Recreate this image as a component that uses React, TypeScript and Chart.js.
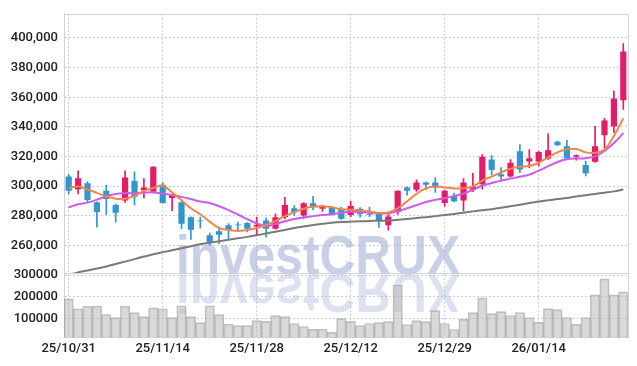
import React, { useEffect, useRef } from 'react';
import { Chart, registerables } from 'chart.js';

Chart.register(...registerables);

const dates = [
  '25/10/31', '25/11/03', '25/11/04', '25/11/05', '25/11/06', '25/11/07', '25/11/10', '25/11/11', '25/11/12', '25/11/13',
  '25/11/14', '25/11/17', '25/11/18', '25/11/19', '25/11/20', '25/11/21', '25/11/24', '25/11/25', '25/11/26', '25/11/27',
  '25/11/28', '25/12/01', '25/12/02', '25/12/03', '25/12/04', '25/12/05', '25/12/08', '25/12/09', '25/12/10', '25/12/11',
  '25/12/12', '25/12/15', '25/12/16', '25/12/17', '25/12/18', '25/12/19', '25/12/22', '25/12/23', '25/12/24', '25/12/26',
  '25/12/29', '25/12/30', '26/01/02', '26/01/05', '26/01/06', '26/01/07', '26/01/08', '26/01/09', '26/01/12', '26/01/13',
  '26/01/14', '26/01/15', '26/01/16', '26/01/19', '26/01/20', '26/01/21', '26/01/22', '26/01/23', '26/01/26', '26/01/27',
];

const opens = [
  306470, 298000, 302000, 289100, 296900, 287300, 290300, 303600, 297300, 296300,
  300900, 292000, 289100, 279100, 276800, 266900, 269600, 273600, 274200, 275100,
  272800, 276800, 271300, 279100, 285100, 280300, 288500, 284700, 285800, 284700,
  280600, 284700, 281300, 281800, 273600, 282500, 299100, 297600, 302500, 302500,
  288700, 293600, 290300, 297600, 301300, 318000, 308000, 306500, 323600, 316700,
  316700, 318700, 330000, 327000, 319800, 314300, 316500, 334300, 340300, 358000,
];
const highs = [
  308000, 310300, 303100, 289500, 300700, 288000, 310300, 309600, 305100, 313300,
  302500, 294500, 289500, 279300, 279100, 268400, 271800, 274700, 275800, 275500,
  279100, 278500, 281300, 292500, 286900, 289000, 293100, 287300, 286300, 285800,
  290000, 285500, 285800, 282000, 280900, 296900, 299500, 304300, 303000, 305800,
  297300, 295300, 305100, 308700, 321300, 320700, 312500, 318000, 328000, 324700,
  323500, 335300, 330500, 331000, 321200, 317000, 340300, 345800, 364300, 396200,
];
const lows = [
  294700, 294700, 289100, 272300, 280900, 275800, 289100, 287300, 292000, 295800,
  288500, 283400, 271400, 264000, 271700, 260200, 261300, 264700, 270300, 269100,
  266900, 265600, 271000, 278000, 280300, 278000, 284000, 282900, 280500, 277500,
  279500, 279100, 279500, 272100, 270300, 280900, 294000, 296500, 297600, 295800,
  286500, 289300, 283300, 296300, 298000, 307400, 303600, 306000, 309100, 312500,
  313600, 318000, 327500, 318000, 317600, 307000, 316000, 325800, 336300, 351800,
];
const closes = [
  296930, 305300, 290700, 282500, 291300, 282000, 305800, 292900, 299100, 313100,
  288700, 294300, 274700, 270600, 276300, 262400, 267300, 270300, 273600, 271300,
  273900, 271300, 279100, 287300, 282500, 288500, 286300, 286300, 281300, 278000,
  286600, 281300, 280700, 276900, 279600, 296900, 296900, 302500, 300900, 299100,
  296900, 289800, 302500, 299800, 319800, 310900, 306500, 315800, 311300, 318900,
  323100, 324300, 327700, 318700, 320900, 308700, 327000, 344300, 359100, 390900,
];
const volumes = [
  190900, 145500, 157300, 157300, 118200, 104500, 157300, 127300, 109100, 150000,
  145500, 104500, 159000, 109000, 81800, 159000, 118200, 74000, 68000, 68000,
  91000, 87000, 113600, 109000, 77300, 63600, 50500, 51000, 36400, 100000,
  87700, 68000, 77300, 81800, 86400, 254500, 72700, 90900, 86400, 136400,
  77300, 50000, 96800, 127300, 195500, 122700, 132500, 114300, 128000, 105200,
  82500, 146000, 141600, 105200, 73400, 105200, 209800, 282500, 209800, 223400,
];
const ma5 = [
  298800, 299800, 297800, 295500, 293100, 291600, 291500, 293500, 296800, 298700,
  300300, 295800, 290500, 285100, 281100, 276100, 271800, 270500, 269800, 270500,
  271800, 273800, 276500, 279800, 282500, 284800, 286100, 286500, 285800, 284500,
  284100, 283600, 282900, 281900, 282300, 285100, 289800, 294800, 298500, 299800,
  299100, 298500, 298600, 299800, 303800, 306500, 309300, 311800, 313100, 313600,
  315800, 319500, 322800, 324900, 325100, 322800, 322500, 324800, 333800, 345800,
];
const ma20 = [
  285800, 287800, 288900, 290900, 293100, 294700, 295300, 295300, 295600, 295800,
  295000, 293900, 292800, 291300, 289600, 288700, 286500, 283900, 280900, 277800,
  274900, 273100, 274500, 276300, 277900, 279000, 279800, 280500, 281100, 282100,
  282800, 282600, 282100, 281500, 281800, 283100, 285100, 287100, 289300, 290800,
  291900, 293300, 295100, 297500, 300500, 302100, 303800, 305100, 306300, 307800,
  310500, 313500, 316300, 318100, 318700, 318900, 320100, 323800, 329100, 335800,
];
const ma60 = [
  240100, 241800, 243100, 244500, 245800, 247500, 249100, 250800, 252500, 254100,
  255500, 256800, 258100, 259500, 260800, 261800, 262800, 263800, 264800, 265800,
  266900, 268100, 269300, 270500, 271800, 272800, 273800, 274600, 275300, 275800,
  276100, 276300, 276500, 276700, 276900, 277300, 277800, 278500, 279100, 279800,
  280500, 281300, 282100, 283000, 283800, 284500, 285500, 286500, 287500, 288600,
  289700, 290500, 291300, 292100, 293100, 293900, 294800, 295600, 296500, 297800,
];

const priceTicks = [260000, 280000, 300000, 320000, 340000, 360000, 380000, 400000];
const volumeTicks = [100000, 200000, 300000];

const UP = 'rgb(228, 27, 102)';
const DOWN = 'rgb(48, 150, 204)';
const GRID = '#c8cde0';
const FRAME = '#d2d2d2';
const FONT = 'Roboto, "Liberation Sans", Arial, sans-serif';
const TICK_FONT = { family: FONT, size: 13, weight: 500 as any };

export default function App() {
  const ref = useRef<HTMLCanvasElement | null>(null);

  useEffect(() => {
    const canvas = ref.current;
    if (!canvas) return;
    const colors = opens.map((o, i) => (closes[i] >= o ? UP : DOWN));

    const watermark = {
      id: 'watermark',
      beforeDatasetsDraw(chart: any) {
        const ctx = chart.ctx as CanvasRenderingContext2D;
        const yScale = chart.scales.y;
        const base = yScale.bottom + 1;
        const text = 'investCRUX';
        ctx.save();
        ctx.font = 'bold 56px "Liberation Sans", Arial, sans-serif';
        ctx.textBaseline = 'alphabetic';
        ctx.textAlign = 'left';
        const w = ctx.measureText(text).width;
        const targetW = 284;
        const sx = targetW / w;
        const left = 176;
        ctx.save();
        ctx.translate(left, base);
        ctx.scale(sx, 1);
        ctx.fillStyle = 'rgba(160, 172, 212, 0.58)';
        ctx.fillText(text, 0, 0);
        ctx.restore();
        ctx.save();
        ctx.beginPath();
        ctx.rect(0, base, chart.width, 60);
        ctx.clip();
        ctx.translate(left, base);
        ctx.scale(sx, -1);
        const g = ctx.createLinearGradient(0, 0, 0, 50);
        g.addColorStop(0, 'rgba(160, 172, 212, 0.36)');
        g.addColorStop(1, 'rgba(160, 172, 212, 0.0)');
        ctx.fillStyle = g;
        ctx.fillText(text, 0, 0);
        ctx.restore();
        ctx.restore();
      },
      afterDraw(chart: any) {
        const ctx = chart.ctx as CanvasRenderingContext2D;
        const a = chart.chartArea;
        const sep = chart.scales.y.bottom;
        ctx.save();
        ctx.strokeStyle = FRAME;
        ctx.lineWidth = 1;
        ctx.beginPath();
        ctx.moveTo(a.left, Math.round(a.top) + 0.5);
        ctx.lineTo(a.right, Math.round(a.top) + 0.5);
        ctx.moveTo(Math.round(a.right) + 0.5, a.top);
        ctx.lineTo(Math.round(a.right) + 0.5, a.bottom);
        ctx.moveTo(a.left, Math.round(sep) + 0.5);
        ctx.lineTo(a.right, Math.round(sep) + 0.5);
        ctx.stroke();
        ctx.restore();
      },
    };

    const chart = new Chart(canvas, {
      type: 'bar',
      data: {
        labels: dates,
        datasets: [
          {
            type: 'line',
            label: 'MA5',
            data: ma5,
            yAxisID: 'y',
            borderColor: 'rgb(240, 134, 74)',
            borderWidth: 2,
            pointRadius: 0,
            tension: 0.4,
            order: 0,
          } as any,
          {
            type: 'line',
            label: 'MA20',
            data: ma20,
            yAxisID: 'y',
            borderColor: 'rgb(204, 92, 232)',
            borderWidth: 2,
            pointRadius: 0,
            tension: 0.4,
            order: 0,
          },
          {
            type: 'line',
            label: 'MA60',
            data: ma60,
            yAxisID: 'y',
            borderColor: 'rgb(122, 122, 122)',
            borderWidth: 2,
            pointRadius: 0,
            tension: 0.4,
            order: 0,
          },
          {
            type: 'bar',
            label: 'body',
            data: opens.map((o, i) => [o, closes[i]]),
            yAxisID: 'y',
            backgroundColor: colors,
            borderWidth: 0,
            barPercentage: 0.66,
            categoryPercentage: 1,
            grouped: false,
            order: 1,
          },
          {
            type: 'bar',
            label: 'wick',
            data: lows.map((l, i) => [l, highs[i]]),
            yAxisID: 'y',
            backgroundColor: colors,
            borderWidth: 0,
            barThickness: 1,
            grouped: false,
            order: 2,
          },
          {
            type: 'bar',
            label: 'volume',
            data: volumes,
            yAxisID: 'y1',
            backgroundColor: 'rgba(185, 185, 185, 0.55)',
            borderColor: 'rgba(140, 140, 140, 0.55)',
            borderWidth: 1,
            borderSkipped: 'bottom',
            barPercentage: 1,
            categoryPercentage: 1,
            grouped: false,
            order: 3,
          },
        ],
      },
      options: {
        responsive: false,
        animation: false,
        layout: { padding: { top: 9, right: 9, left: 0, bottom: 0 } },
        plugins: {
          legend: { display: false },
          tooltip: { enabled: false },
        },
        scales: {
          x: {
            type: 'category',
            offset: true,
            grid: {
              offset: false,
              drawTicks: false,
              color: (c: any) => (c.index % 10 === 0 ? GRID : 'rgba(0,0,0,0)'),
            },
            border: { color: FRAME, dash: [2, 2] },
            ticks: {
              autoSkip: false,
              maxRotation: 0,
              minRotation: 0,
              padding: 4,
              color: '#222',
              font: TICK_FONT,
              callback: (_v: any, i: number) => (i % 10 === 0 ? dates[i] : ''),
            },
            afterFit: (s: any) => {
              s.height = 28.7;
            },
          },
          y: {
            type: 'linear',
            position: 'left',
            stack: 'panels',
            stackWeight: 263,
            weight: 2,
            min: 241300,
            max: 416300,
            grid: { color: GRID, drawTicks: false },
            border: { color: FRAME, dash: [2, 2] },
            ticks: {
              autoSkip: false,
              stepSize: 20000,
              padding: 6,
              color: '#222',
              font: TICK_FONT,
              callback: (v: any) => Number(v).toLocaleString('en-US'),
            },
            afterBuildTicks: (s: any) => {
              s.ticks = priceTicks.map((value) => ({ value }));
            },
            afterFit: (s: any) => {
              s.width = 64;
            },
          },
          y1: {
            type: 'linear',
            position: 'left',
            stack: 'panels',
            stackWeight: 65,
            weight: 1,
            min: 14000,
            max: 309000,
            grid: { color: GRID, drawTicks: false },
            border: { color: FRAME, dash: [2, 2] },
            ticks: {
              autoSkip: false,
              stepSize: 100000,
              padding: 6,
              color: '#222',
              font: TICK_FONT,
              callback: (v: any) => String(v),
            },
            afterBuildTicks: (s: any) => {
              s.ticks = volumeTicks.map((value) => ({ value }));
            },
            afterFit: (s: any) => {
              s.width = 64;
            },
          },
        },
      } as any,
      plugins: [watermark],
    });

    return () => {
      chart.destroy();
    };
  }, []);

  return (
    <div style={{ position: 'fixed', left: 0, top: 0, width: 637, height: 366, background: '#fff' }}>
      <canvas ref={ref} width={637} height={366} style={{ display: 'block' }} />
    </div>
  );
}
